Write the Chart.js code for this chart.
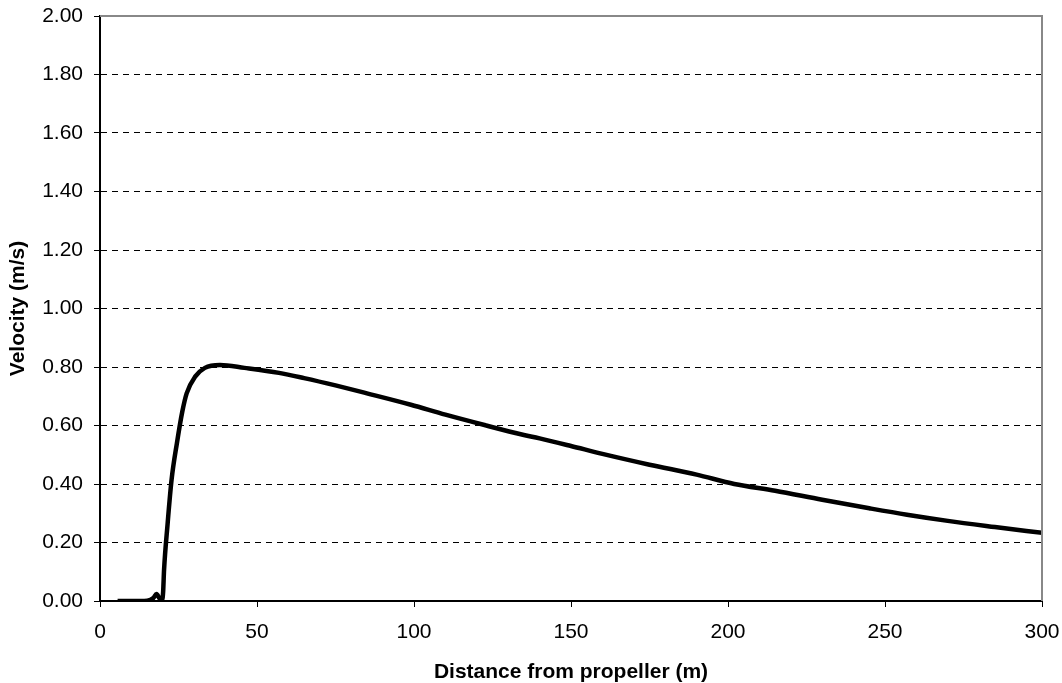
<!DOCTYPE html>
<html lang="en">
<head>
    <meta charset="UTF-8">
    <title>Velocity vs distance</title>
    <style>
        body { margin: 0; background: #fff; }
        .wrap { width: 1062px; height: 683px; position: relative; }
    </style>
</head>
<body>
    <div class="wrap"><canvas id="chart"></canvas></div>

    <script src="https://cdn.jsdelivr.net/npm/chart.js@4.4.9/dist/chart.umd.min.js"></script>
    <script>
        // values
        const distance = [5.6, 10, 15, 17, 18, 19, 19.8, 20.1, 20.4, 21.5, 22.8, 24.5, 26.2, 27.6,
            30.3, 33.4, 38.2, 46, 57, 65, 75, 85, 99, 110, 123, 134, 140, 150, 160, 175,
            190, 202, 215, 230, 245, 257, 270, 285, 300];
        const velocity = [0, 0, 0.001, 0.01, 0.024, 0.008, 0.005, 0.03, 0.106, 0.26, 0.415, 0.54, 0.647, 0.71,
            0.767, 0.797, 0.807, 0.797, 0.78, 0.762, 0.737, 0.71, 0.671, 0.637, 0.60, 0.57, 0.556, 0.53, 0.503, 0.466,
            0.432, 0.40, 0.377, 0.346, 0.317, 0.295, 0.274, 0.253, 0.233];
        const yTicks = [0, 0.2, 0.4, 0.6, 0.8, 1.0, 1.2, 1.4, 1.6, 1.8, 2.0];
        const xTicks = [0, 50, 100, 150, 200, 250, 300];

        const points = distance.map((d, i) => ({ x: d, y: velocity[i] }));

        // gray top/right frame of the plot area
        const frame = {
            id: 'frame',
            afterDraw(chart) {
                const a = chart.chartArea, ctx = chart.ctx;
                ctx.save();
                ctx.strokeStyle = '#888';
                ctx.lineWidth = 2;
                ctx.beginPath();
                ctx.moveTo(a.left, a.top);
                ctx.lineTo(a.right, a.top);
                ctx.lineTo(a.right, a.bottom);
                ctx.stroke();
                ctx.restore();
            }
        };

        Chart.defaults.font.family = 'Arial, "Liberation Sans", sans-serif';
        Chart.defaults.color = '#000';

        new Chart(document.getElementById('chart'), {
            type: 'scatter',
            data: {
                datasets: [{
                    data: points,
                    showLine: true,
                    borderColor: '#000',
                    borderWidth: 4.5,
                    pointRadius: 0,
                    cubicInterpolationMode: 'monotone'
                }]
            },
            options: {
                responsive: true,
                maintainAspectRatio: false,
                animation: false,
                layout: { padding: { top: 16, right: 20, left: 0, bottom: 0 } },
                plugins: { legend: { display: false }, tooltip: { enabled: false } },
                scales: {
                    x: {
                        type: 'linear',
                        min: 0, max: 300,
                        afterFit: s => { s.height = 82; s.paddingLeft = 0; s.paddingRight = 0; },
                        afterBuildTicks: s => { s.ticks = xTicks.map(v => ({ value: v })); },
                        ticks: { font: { size: 21 }, padding: 13, maxRotation: 0 },
                        grid: { drawOnChartArea: false, drawTicks: true, tickLength: 6, tickColor: '#000' },
                        border: { color: '#000', width: 2 },
                        title: {
                            display: true,
                            text: 'Distance from propeller (m)',
                            font: { size: 21, weight: 'bold', lineHeight: 1 },
                            padding: { top: 0, bottom: 0 }
                        }
                    },
                    y: {
                        min: 0, max: 2,
                        afterFit: s => { s.width = 100; s.paddingTop = 0; s.paddingBottom = 0; },
                        afterBuildTicks: s => { s.ticks = yTicks.map(v => ({ value: v })); },
                        ticks: { font: { size: 21 }, padding: 11, callback: v => v.toFixed(2) },
                        grid: {
                            color: c => (c.tick && (c.tick.value === 0 || c.tick.value === 2)) ? 'rgba(0,0,0,0)' : '#000',
                            lineWidth: 1,
                            tickLength: 6,
                            tickColor: '#000'
                        },
                        border: { color: '#000', width: 2, dash: [6, 5] },
                        title: {
                            display: true,
                            text: 'Velocity (m/s)',
                            font: { size: 21, weight: 'bold', lineHeight: 1 },
                            padding: { top: 8, bottom: 8 }
                        }
                    }
                }
            },
            plugins: [frame]
        });
    </script>
</body>
</html>
